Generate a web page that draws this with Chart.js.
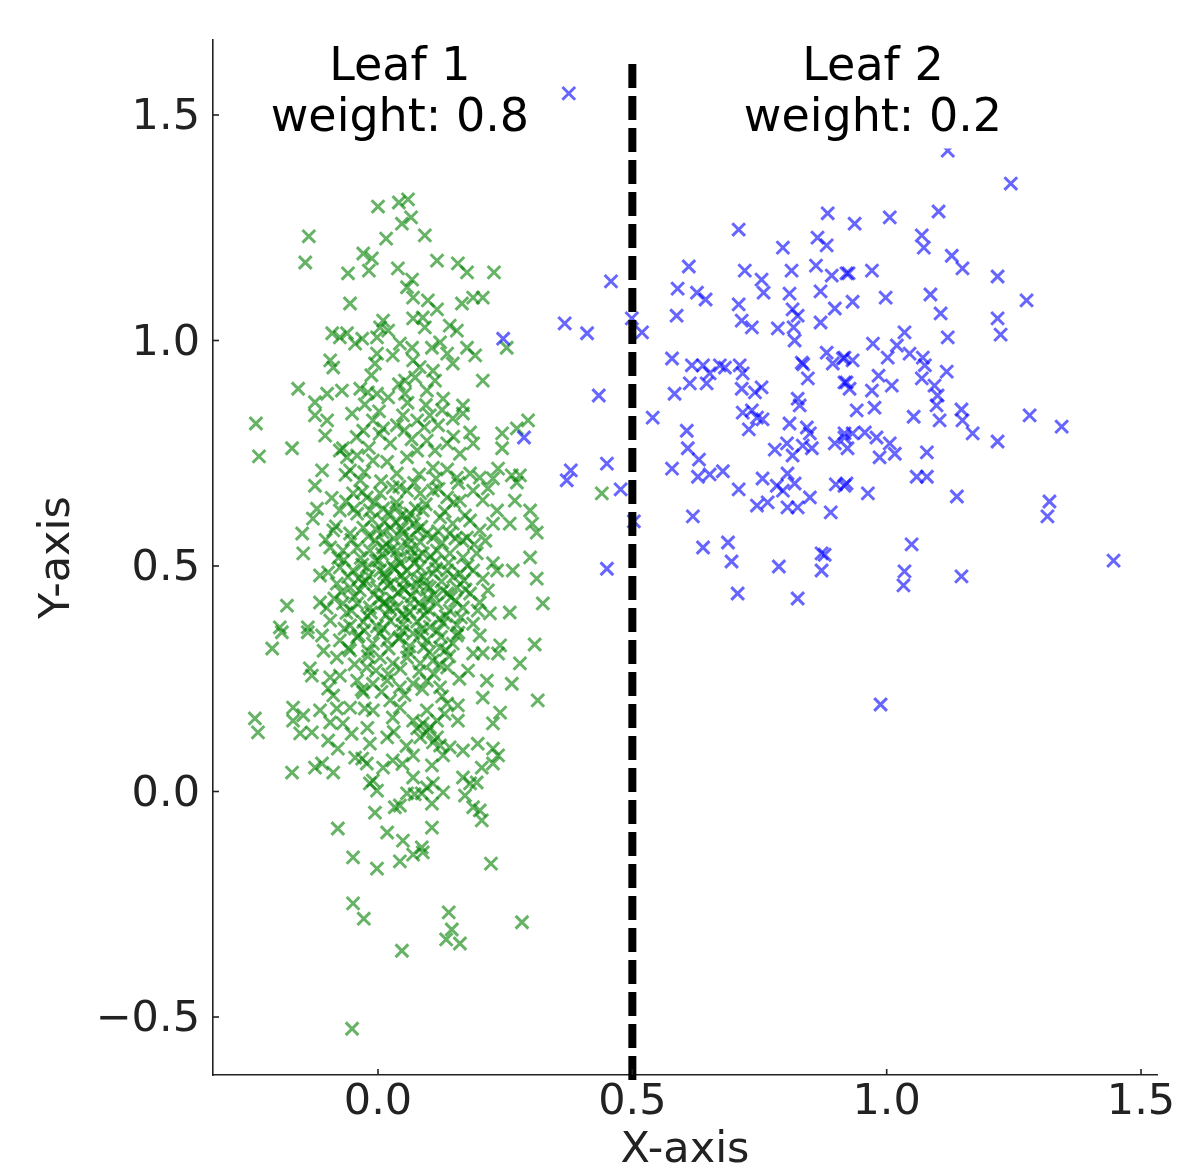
<!DOCTYPE html>
<html>
<head>
<meta charset="utf-8">
<script src="https://cdn.jsdelivr.net/npm/chart.js@4.4.1/dist/chart.umd.min.js"></script>
<style>
  html, body { margin: 0; padding: 0; background: #fff; }
</style>
</head>
<body>
<canvas id="chart" width="1179" height="1168"></canvas>
<script>
// Axis setup
const xTickValues = [0, 0.5, 1.0, 1.5];
const xTickLabels = ['0.0', '0.5', '1.0', '1.5'];
const yTickValues = [-0.5, 0, 0.5, 1.0, 1.5];
const yTickLabels = ['\u22120.5', '0.0', '0.5', '1.0', '1.5'];

// Split threshold (dashed line) and leaf annotations
const splitX = 0.5;
const splitRange = [1.613, -0.655];
const leafLabels = [['Leaf 1', 'weight: 0.8'], ['Leaf 2', 'weight: 0.2']];
const leafLabelX = [0.043, 0.973];
const leafLabelY = 1.55;

// Leaf 1 samples (green)
const leaf1Points = [
  [0.00,1.297],[0.041,1.306],[0.059,1.313],[0.065,1.273],[0.047,1.259],[0.016,1.226],[0.092,1.233],[-0.136,1.231],
  [-0.143,1.173],[-0.029,1.193],[-0.012,1.182],[-0.018,1.155],[-0.059,1.149],[0.039,1.160],[0.116,1.177],[0.157,1.171],
  [0.175,1.151],[0.228,1.151],[0.067,1.135],[0.057,1.118],[-0.055,1.082],[0.069,1.095],[0.098,1.089],[0.116,1.069],
  [0.165,1.082],[0.187,1.095],[0.206,1.095],[0.069,1.049],[0.088,1.051],[0.092,1.029],[0.010,1.044],[0.004,1.029],
  [0.141,1.033],[0.155,1.022],[-0.090,1.016],[-0.075,1.007],[-0.061,1.016],[-0.045,0.993],[-0.031,1.004],[-0.002,1.007],
  [0.020,1.022],[0.043,0.993],[0.067,0.984],[0.029,0.967],[-0.002,0.971],[-0.006,0.949],[0.069,0.956],[0.106,0.984],
  [0.122,0.996],[0.136,0.971],[0.147,0.949],[0.175,0.984],[0.191,0.967],[0.108,0.933],[0.112,0.911],[-0.094,0.956],
  [-0.088,0.940],[-0.157,0.893],[-0.124,0.863],[-0.100,0.882],[-0.071,0.889],[-0.035,0.893],[-0.020,0.885],[-0.002,0.882],
  [0.020,0.874],[0.053,0.911],[0.073,0.918],[0.053,0.882],[0.096,0.889],[0.128,0.871],[0.167,0.856],[0.206,0.911],[0.253,0.984],
  [-0.240,0.816],[-0.234,0.743],[-0.169,0.761],[-0.124,0.834],[-0.100,0.823],[-0.104,0.789],[-0.110,0.712],[-0.124,0.678],
  [-0.120,0.627],[-0.128,0.605],[-0.149,0.572],[-0.147,0.528],[-0.114,0.479],[-0.179,0.412],[-0.193,0.364],[-0.138,0.364],
  [-0.114,0.419],[-0.094,0.379],[-0.051,0.838],[-0.069,0.761],[-0.041,0.745],[-0.029,0.800],[-0.010,0.823],[0.010,0.805],
  [0.037,0.812],[0.049,0.834],[0.077,0.823],[0.102,0.834],[0.118,0.812],[0.147,0.827],[0.167,0.838],[0.181,0.796],
  [0.187,0.772],[0.161,0.749],[0.136,0.772],[0.244,0.794],[0.244,0.761],[0.273,0.805],[0.295,0.823],[0.236,0.716],
  [0.263,0.701],[0.279,0.701],[0.273,0.685],[0.226,0.694],[0.200,0.696],[0.216,0.672],[0.269,0.645],[0.299,0.623],
  [0.303,0.594],[0.312,0.574],[0.259,0.594],[0.234,0.623],[0.226,0.594],[0.299,0.519],[0.265,0.490],[0.312,0.472],
  [0.324,0.417],[0.259,0.397],[0.226,0.506],[0.234,0.490],[0.216,0.446],[0.200,0.419],[0.220,0.395],[0.187,0.372],
  [-0.075,0.756],[-0.055,0.712],[-0.035,0.690],[-0.010,0.734],[0.018,0.731],[0.037,0.705],[0.057,0.741],[0.077,0.756],
  [0.096,0.778],[0.108,0.718],[0.136,0.714],[0.155,0.696],[0.181,0.705],[0.187,0.667],[0.161,0.645],[0.136,0.652],
  [0.108,0.667],[0.083,0.661],[0.057,0.667],[0.029,0.674],[0.004,0.661],[-0.022,0.652],[-0.049,0.661],[-0.075,0.623],
  [-0.041,0.616],[-0.016,0.623],[0.010,0.627],[0.037,0.630],[0.063,0.616],[0.088,0.623],[0.122,0.608],[0.147,0.594],
  [0.181,0.601],[0.200,0.579],[0.175,0.563],[0.141,0.572],[0.108,0.563],[0.077,0.579],[0.049,0.572],[0.024,0.585],
  [-0.002,0.579],[-0.029,0.585],[-0.055,0.572],[-0.088,0.579],[-0.094,0.541],[-0.069,0.534],[-0.041,0.541],[-0.016,0.534],
  [0.010,0.541],[0.037,0.534],[0.063,0.537],[0.088,0.528],[0.116,0.534],[0.141,0.528],[0.167,0.519],[0.194,0.528],
  [0.187,0.490],[0.161,0.483],[0.136,0.490],[0.108,0.483],[0.083,0.497],[0.057,0.490],[0.029,0.497],[0.004,0.490],
  [-0.022,0.497],[-0.049,0.490],[-0.075,0.497],[-0.081,0.461],[-0.055,0.452],[-0.029,0.461],[-0.002,0.452],[0.024,0.461],
  [0.049,0.452],[0.077,0.461],[0.102,0.452],[0.128,0.446],[0.155,0.452],[0.181,0.439],[-0.069,0.417],[-0.041,0.417],
  [-0.016,0.408],[0.010,0.417],[0.037,0.408],[0.063,0.417],[0.088,0.408],[0.116,0.417],[0.141,0.401],[0.167,0.408],
  [-0.055,0.368],[-0.029,0.376],[-0.002,0.366],[0.024,0.379],[0.049,0.370],[0.077,0.377],[0.102,0.365],[0.128,0.374],[0.155,0.369],
  [0.012,0.598],[0.046,0.612],[0.071,0.594],[-0.006,0.556],[0.031,0.561],[0.058,0.548],[0.095,0.571],[-0.034,0.518],
  [0.002,0.512],[0.044,0.507],[0.079,0.521],[0.112,0.509],[-0.018,0.478],[0.015,0.473],[0.051,0.468],[0.089,0.476],
  [0.125,0.466],[-0.046,0.432],[-0.008,0.437],[0.028,0.427],[0.066,0.433],[0.098,0.428],[0.136,0.439],[-0.062,0.396],
  [-0.021,0.389],[0.016,0.392],[0.054,0.386],[0.091,0.391],[0.121,0.383],[-0.038,0.346],[0.003,0.351],[0.041,0.339],
  [0.083,0.347],[0.117,0.356],[0.036,0.641],[0.071,0.684],[-0.027,0.708],[0.114,0.694],[0.149,0.641],[-0.063,0.643],
  [0.166,0.556],[-0.078,0.518],[0.169,0.468],[-0.086,0.428],[0.152,0.423],[0.060,0.310],[0.090,0.320],[0.140,0.300],
  [-0.020,0.300],[0.020,0.260],[0.110,0.260],[0.160,0.250],
  [-0.064,0.702],[-0.031,0.664],[0.006,0.688],[0.042,0.676],[0.081,0.703],[0.119,0.671],[0.158,0.684],[-0.047,0.627],
  [-0.012,0.603],[0.021,0.618],[0.059,0.604],[0.094,0.637],[0.131,0.621],[0.171,0.612],[-0.083,0.588],[-0.052,0.558],
  [-0.019,0.566],[0.016,0.549],[0.047,0.583],[0.083,0.553],[0.118,0.577],[0.152,0.561],[0.189,0.548],[-0.067,0.513],
  [-0.031,0.503],[0.008,0.526],[0.039,0.518],[0.071,0.507],[0.103,0.522],[0.139,0.507],[0.176,0.501],[-0.059,0.476],
  [-0.024,0.467],[0.012,0.484],[0.046,0.479],[0.079,0.471],[0.114,0.494],[0.148,0.476],[-0.072,0.442],[-0.036,0.446],
  [0.003,0.428],[0.039,0.441],[0.074,0.447],[0.109,0.436],[0.144,0.431],[0.172,0.448],[-0.052,0.401],[-0.014,0.397],
  [0.023,0.406],[0.062,0.398],[0.099,0.403],[0.133,0.389],[0.163,0.386],[-0.066,0.361],[-0.027,0.357],[0.011,0.361],
  [0.048,0.356],[0.087,0.361],[0.124,0.343],[0.158,0.352],[-0.058,0.318],[-0.019,0.311],[0.021,0.317],[0.062,0.322],
  [0.101,0.309],[0.133,0.314],[-0.046,0.282],[-0.004,0.268],[0.044,0.272],[0.081,0.266],[0.121,0.281],[-0.032,0.226],
  [0.007,0.221],[0.052,0.214],[0.087,0.227],[0.126,0.211],[-0.061,0.741],[-0.018,0.762],[0.024,0.772],[0.066,0.781],
  [0.112,0.756],[0.148,0.787],[-0.042,0.786],[0.003,0.793],[0.052,0.801],[0.091,0.808],[0.126,0.846],[0.009,0.575],
  [0.027,0.537],[0.061,0.562],[0.033,0.494],[0.066,0.522],[-0.004,0.512],[0.085,0.587],[0.052,0.447],[0.019,0.457],
  [0.097,0.456],[0.036,0.596],[0.074,0.628],[-0.007,0.641],[0.014,0.419],[0.081,0.418],[0.048,0.392],[-0.038,0.472],
  [0.126,0.551],[0.002,0.843],[0.058,0.862],[-0.026,0.858],[0.094,0.857],[0.041,0.903],[-0.013,0.923],[0.082,0.941],
  [-0.091,0.651],[-0.103,0.558],[-0.098,0.486],[-0.101,0.407],[-0.107,0.312],[0.206,0.646],[0.211,0.556],[0.206,0.472],
  [0.196,0.401],[0.206,0.307],[0.031,0.132],[0.056,0.101],[-0.021,0.141],[0.048,0.061],[0.131,0.172],[-0.052,0.128],
  [-0.208,0.317],[-0.189,0.353],[-0.138,0.353],[-0.110,0.346],[-0.134,0.273],[-0.130,0.257],[-0.098,0.228],[-0.088,0.213],
  [-0.094,0.253],[-0.075,0.257],[-0.081,0.297],[-0.055,0.313],[-0.242,0.162],[-0.236,0.131],[-0.167,0.186],[-0.167,0.157],
  [-0.147,0.169],[-0.153,0.129],[-0.130,0.131],[-0.114,0.180],[-0.094,0.153],[-0.069,0.151],[-0.081,0.184],[-0.055,0.186],
  [-0.098,0.113],[-0.079,0.095],[-0.169,0.042],[-0.124,0.053],[-0.110,0.062],[-0.088,0.042],[-0.045,0.075],[-0.031,0.073],
  [-0.016,0.106],[-0.022,0.062],[-0.026,0.184],[-0.029,0.220],[-0.010,0.180],[0.018,0.120],[0.029,0.069],[0.010,0.053],
  [0.069,0.080],[0.069,0.031],[0.057,-0.004],[-0.016,0.018],[-0.002,0.002],[-0.010,0.024],[0.033,-0.035],[0.043,-0.031],
  [-0.006,-0.047],[-0.079,-0.082],[0.018,-0.091],[0.049,-0.109],[0.086,-0.124],[0.106,-0.080],[0.072,-0.006],[0.086,-0.004],
  [0.096,0.009],[0.106,-0.027],[0.128,-0.002],[0.108,0.018],[0.069,0.157],[0.077,0.140],[0.096,0.131],[0.116,0.120],
  [0.122,0.102],[0.128,0.080],[0.141,0.098],[0.106,0.058],[0.167,0.091],[0.196,0.106],[0.226,0.095],[0.236,0.080],
  [0.226,0.062],[0.204,0.053],[0.167,0.031],[0.181,0.018],[0.194,0.020],[0.171,-0.009],[0.187,-0.035],[0.200,-0.042],
  [0.204,-0.064],[0.308,0.326],[0.279,0.284],[0.263,0.239],[0.236,0.306],[0.240,0.324],[0.214,0.246],[0.206,0.208],
  [0.240,0.175],[0.226,0.151],[0.314,0.202],[0.177,0.268],[0.157,0.157],[0.157,0.191],[0.136,0.195],[0.102,0.142],
  [0.083,0.120],[0.108,0.109],[0.187,0.306],[0.200,0.346],[0.155,0.346],
  [-0.075,0.335],[-0.041,0.342],[-0.010,0.328],[0.018,0.335],[0.043,0.342],[0.069,0.350],[0.096,0.335],[0.122,0.319],
  [0.147,0.328],[0.004,0.297],[0.029,0.284],[0.057,0.297],[0.083,0.284],[0.108,0.290],[0.136,0.275],[-0.022,0.275],
  [-0.041,0.246],[-0.010,0.239],[0.018,0.246],[0.043,0.231],[0.069,0.239],[0.096,0.246],[0.122,0.231],[0.024,0.202],
  [0.043,0.186],[0.029,0.164],[0.096,0.180],[0.116,0.157],[0.088,0.151],
  [-0.049,-0.146],[-0.002,-0.171],[0.043,-0.155],[0.069,-0.140],[0.088,-0.135],[0.222,-0.160],[-0.049,-0.248],[-0.028,-0.282],
  [0.139,-0.268],[0.145,-0.306],[0.134,-0.328],[0.161,-0.337],[0.047,-0.353],[0.283,-0.290],[-0.051,-0.526],
  [0.440,0.661]
];

// Leaf 2 samples (blue)
const leaf2Points = [
  [0.246,1.004],[0.287,0.785],
  [0.375,1.548],[0.709,1.246],[0.884,1.282],[0.796,1.206],[0.864,1.228],[0.882,1.211],[0.611,1.164],[0.721,1.155],
  [0.754,1.135],[0.813,1.155],[0.861,1.166],[0.892,1.144],[0.921,1.149],[0.458,1.131],[0.589,1.115],[0.627,1.106],
  [0.644,1.091],[0.758,1.106],[0.809,1.104],[0.870,1.109],[0.898,1.071],[0.709,1.080],[0.815,1.069],[0.825,1.055],
  [0.587,1.055],[0.870,1.040],[0.715,1.044],[0.735,1.029],[0.786,1.027],[0.817,1.029],[0.819,1.000],[0.367,1.038],
  [0.411,1.016],[0.499,1.049],[0.519,1.018],[0.578,0.960],[0.617,0.945],[0.639,0.945],[0.652,0.927],[0.672,0.945],
  [0.682,0.940],[0.711,0.945],[0.717,0.927],[0.833,0.951],[0.836,0.947],[0.882,0.973],[0.894,0.949],[0.914,0.960],
  [0.845,0.916],[0.917,0.907],[0.613,0.905],[0.646,0.905],[0.583,0.882],[0.715,0.893],[0.741,0.885],[0.754,0.896],
  [0.825,0.871],[0.434,0.878],
  [1.120,1.421],[1.244,1.348],[0.937,1.259],[1.006,1.273],[1.102,1.286],[1.069,1.233],[1.073,1.206],[1.128,1.188],
  [1.149,1.160],[1.218,1.142],[0.925,1.149],[0.971,1.155],[1.275,1.089],[0.933,1.086],[0.998,1.095],[1.086,1.102],
  [1.106,1.060],[1.218,1.049],[1.224,1.013],[1.120,1.007],[1.035,1.018],[0.973,0.993],[1.020,0.989],[1.002,0.962],
  [1.045,0.971],[1.071,0.962],[1.075,0.945],[0.917,0.962],[0.933,0.956],[1.118,0.931],[0.984,0.922],[1.069,0.916],
  [0.921,0.907],[0.927,0.893],[0.971,0.889],[1.010,0.900],[1.094,0.900],[1.100,0.878],
  [0.540,0.829],[0.607,0.800],[0.609,0.761],[0.631,0.736],[0.578,0.716],[0.629,0.698],[0.652,0.703],[0.678,0.710],
  [0.709,0.670],[0.379,0.712],[0.371,0.690],[0.450,0.727],[0.477,0.670],[0.503,0.599],[0.450,0.494],[0.619,0.610],
  [0.639,0.541],[0.688,0.552],[0.695,0.510],[0.707,0.439],[0.788,0.499],[0.825,0.428],[0.872,0.528],[0.878,0.525],
  [0.872,0.490],[0.890,0.619],[0.717,0.840],[0.735,0.845],[0.745,0.829],[0.756,0.825],[0.729,0.803],[0.809,0.816],
  [0.829,0.856],[0.843,0.807],[0.849,0.794],[0.804,0.772],[0.780,0.758],[0.815,0.745],[0.835,0.767],[0.853,0.761],
  [0.898,0.772],[0.917,0.785],[0.756,0.694],[0.784,0.678],[0.796,0.667],[0.805,0.705],[0.819,0.683],[0.745,0.634],
  [0.766,0.641],[0.805,0.630],[0.825,0.630],[0.849,0.652],[0.900,0.681],[0.917,0.678],
  [0.941,0.845],[0.976,0.851],[1.053,0.831],[1.098,0.856],[1.104,0.823],[1.147,0.847],[1.149,0.823],[1.169,0.794],
  [1.218,0.776],[1.281,0.834],[1.344,0.809],[0.917,0.794],[0.933,0.794],[0.957,0.796],[0.980,0.785],[0.923,0.761],
  [0.986,0.741],[1.006,0.772],[1.016,0.749],[1.079,0.752],[1.059,0.698],[1.079,0.698],[0.921,0.683],[0.963,0.661],
  [1.138,0.654],[1.320,0.643],[1.316,0.610],[1.049,0.548],[1.035,0.488],[1.033,0.457],[1.147,0.477],[1.446,0.512],
  [0.988,0.193]
];

const FONT = 'DejaVu Sans';
const INK = '#222';

const toXY = pts => pts.map(([x, y]) => ({ x, y }));

// inward tick marks, like the original
const tickMarks = {
  id: 'tickMarks',
  afterDraw(c) {
    const { ctx, chartArea: a, scales: { x, y } } = c;
    ctx.save();
    ctx.strokeStyle = INK;
    ctx.lineWidth = 1.6;
    xTickValues.forEach(v => {
      const px = x.getPixelForValue(v);
      ctx.beginPath(); ctx.moveTo(px, a.bottom); ctx.lineTo(px, a.bottom - 6); ctx.stroke();
    });
    yTickValues.forEach(v => {
      const py = y.getPixelForValue(v);
      ctx.beginPath(); ctx.moveTo(a.left, py); ctx.lineTo(a.left + 6, py); ctx.stroke();
    });
    ctx.restore();
  }
};

// "Leaf n / weight" labels on white boxes
const leafText = {
  id: 'leafText',
  afterDatasetsDraw(c) {
    const { ctx, scales: { x, y } } = c;
    ctx.save();
    ctx.font = `46px "${FONT}"`;
    leafLabels.forEach((lines, i) => {
      const cx = x.getPixelForValue(leafLabelX[i]);
      const cy = y.getPixelForValue(leafLabelY);
      const w = Math.max(...lines.map(t => ctx.measureText(t).width));
      ctx.fillStyle = '#fff';
      ctx.fillRect(cx - w / 2 - 10, cy - 56, w + 20, 112);
      ctx.fillStyle = '#000';
      ctx.textAlign = 'center';
      ctx.textBaseline = 'alphabetic';
      ctx.fillText(lines[0], cx, cy - 12);
      ctx.fillText(lines[1], cx, cy + 39);
    });
    ctx.restore();
  }
};

const markerStyle = color => ({
  pointStyle: 'crossRot',
  pointRadius: 9,
  pointHoverRadius: 9,
  pointBorderWidth: 3,
  pointBorderColor: color,
  pointBackgroundColor: color
});

const ctx = document.getElementById('chart').getContext('2d');
const chart = new Chart(ctx, {
  type: 'scatter',
  data: {
    datasets: [
      {
        label: 'split',
        data: splitRange.map(y => ({ x: splitX, y })),
        showLine: true,
        borderColor: '#000',
        borderWidth: 8,
        borderDash: [24, 8],
        pointRadius: 0,
        pointHoverRadius: 0,
        clip: false,
        order: 0
      },
      { label: 'Leaf 2', data: toXY(leaf2Points), ...markerStyle('rgba(0, 0, 255, 0.6)'), order: 1 },
      { label: 'Leaf 1', data: toXY(leaf1Points), ...markerStyle('rgba(0, 128, 0, 0.6)'), order: 2 }
    ]
  },
  options: {
    responsive: false,
    animation: false,
    layout: { padding: { top: 40, right: 22, left: 0, bottom: 0 } },
    plugins: { legend: { display: false }, tooltip: { enabled: false } },
    scales: {
      x: {
        type: 'linear',
        min: -0.3244,
        max: 1.5314,
        grid: { display: false, drawTicks: false },
        border: { display: true, color: INK, width: 1.6 },
        afterBuildTicks: s => { s.ticks = xTickValues.map(v => ({ value: v })); },
        ticks: {
          color: INK,
          font: { family: FONT, size: 43 },
          padding: 2,
          maxRotation: 0,
          autoSkip: false,
          callback: (v, i) => xTickLabels[i]
        },
        title: {
          display: true,
          text: 'X-axis',
          color: INK,
          font: { family: FONT, size: 43, lineHeight: 0.8 },
          padding: 0
        },
        afterFit: s => { s.height = 93; }
      },
      y: {
        type: 'linear',
        min: -0.6286,
        max: 1.6663,
        grid: { display: false, drawTicks: false },
        border: { display: true, color: INK, width: 1.6 },
        afterBuildTicks: s => { s.ticks = yTickValues.map(v => ({ value: v })); },
        ticks: {
          color: INK,
          font: { family: FONT, size: 43 },
          padding: 13,
          labelOffset: 3,
          autoSkip: false,
          callback: (v, i) => yTickLabels[i]
        },
        title: {
          display: true,
          text: 'Y-axis',
          color: INK,
          font: { family: FONT, size: 43 },
          padding: { top: 32, bottom: 0 }
        },
        afterFit: s => { s.width = 213; }
      }
    }
  },
  plugins: [tickMarks, leafText]
});
</script>
</body>
</html>
